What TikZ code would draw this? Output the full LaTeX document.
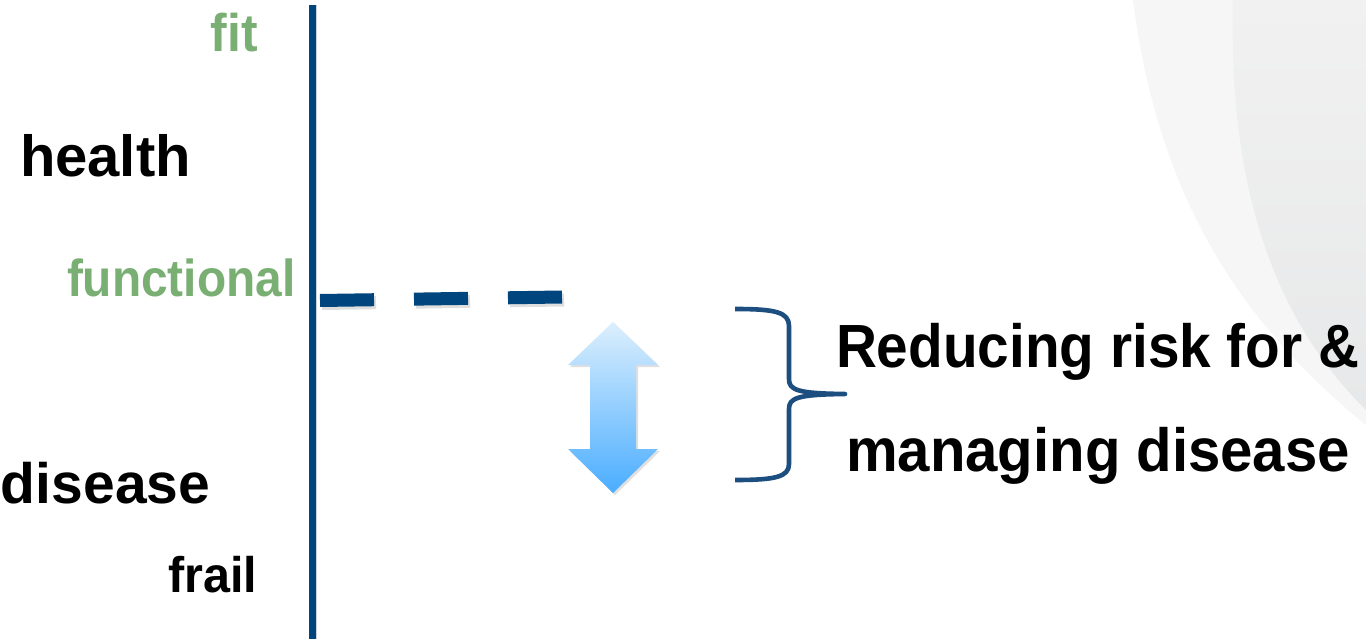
\documentclass[tikz,border=0pt]{standalone}
\usepackage{fontspec}
\setmainfont{Liberation Sans}
\usetikzlibrary{shadows}
\definecolor{axisblue}{HTML}{00457E}
\definecolor{lblgreen}{HTML}{7AAF73}
\definecolor{bracecol}{HTML}{1C4E80}
\definecolor{arrtop}{HTML}{DCEFFD}
\definecolor{arrbot}{HTML}{4AADFF}
\definecolor{bgA}{HTML}{F6F6F6}
\definecolor{bgB1}{HTML}{F1F1F1}
\definecolor{bgB2}{HTML}{E7E8E9}
\tikzset{
  lbl/.style={inner sep=0pt, outer sep=0pt, font=\bfseries},
  axisline/.style={line width=7pt, draw=axisblue},
  levelline/.style={line width=13pt, draw=axisblue, dash pattern=on 54pt off 40pt},
  bracestyle/.style={line width=4.6pt, draw=bracecol, line join=round},
}
\begin{document}
\begin{tikzpicture}[x=1pt,y=-1pt]
\useasboundingbox (0,0) rectangle (1366,639);
\fill[white] (0,0) rectangle (1366,639);
% background swooshes
\fill[bgA] (1133,0) .. controls (1160,210) and (1250,330) .. (1366,425) -- (1366,0) -- cycle;
\shade[top color=bgB1, bottom color=bgB2] (1233,0) .. controls (1228,190) and (1275,320) .. (1366,410) -- (1366,0) -- cycle;

% axis
\coordinate (axtop) at (312,5);
\coordinate (axbot) at (312,639);
\draw[line width=3pt, black!18] ([xshift=3.5pt]axtop) -- ([xshift=3.5pt]axbot);
\draw[axisline] (axtop) -- (axbot);

% functional level dashed line
\coordinate (lvlA) at (320,300.5);
\coordinate (lvlB) at (562,297);
\draw[line width=13pt, black!25, opacity=0.5, dash pattern=on 54pt off 40pt] ([xshift=2pt,yshift=-3pt]lvlA) -- ([xshift=2pt,yshift=-3pt]lvlB);
\draw[levelline] (lvlA) -- (lvlB);

% labels
\node[lbl, text=lblgreen, anchor=base east, font=\bfseries\fontsize{53}{60}\selectfont] (fit) at (258,52) {\scalebox{0.94}[1]{fit}};
\node[lbl, anchor=base west, font=\bfseries\fontsize{58}{60}\selectfont] (health) at (20,177) {health};
\node[lbl, text=lblgreen, anchor=base west, font=\bfseries\fontsize{52}{60}\selectfont] (functional) at (67,296) {\scalebox{0.92}[1]{functional}};
\node[lbl, anchor=base west, font=\bfseries\fontsize{57}{60}\selectfont] (disease) at (1,503) {disease};
\node[lbl, anchor=base east, font=\bfseries\fontsize{50}{60}\selectfont] (frail) at (257,592) {\scalebox{0.97}[1]{frail}};

% double arrow
\path[drop shadow={opacity=0.25, shadow xshift=2pt, shadow yshift=-2pt},
      top color=arrtop, bottom color=arrbot]
  (613,322) -- (658,365) -- (636,365) -- (636,449) -- (658,449) -- (613,493)
  -- (568,449) -- (590,449) -- (590,365) -- (568,365) -- cycle;

% brace
\coordinate (brTop) at (735,309);
\coordinate (brTip) at (845,394);
\coordinate (brBot) at (735,480);
\draw[bracestyle] (brTop) .. controls (775,309) and (789,312) .. (789,326) -- (789,379)
  .. controls (789,390) and (797,393.5) .. (brTip)
  .. controls (797,394.5) and (789,398) .. (789,409) -- (789,464)
  .. controls (789,477) and (775,480) .. (brBot);

% right text
\node[lbl, anchor=base west, font=\bfseries\fontsize{61}{66}\selectfont] (reduce) at (836,367) {\scalebox{0.93}[1]{Reducing risk for \&}};
\node[lbl, anchor=base west, font=\bfseries\fontsize{61}{66}\selectfont] (manage) at (846,471) {\scalebox{0.953}[1]{managing disease}};
\end{tikzpicture}
\end{document}
